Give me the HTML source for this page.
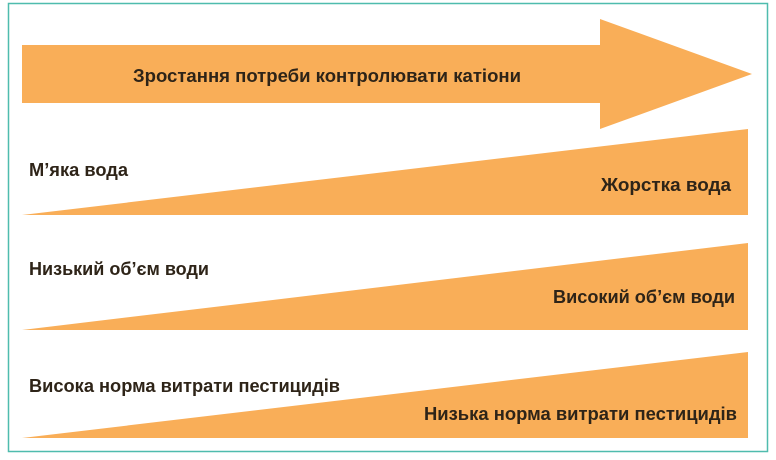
<!DOCTYPE html>
<html><head><meta charset="utf-8"><style>
html,body{margin:0;padding:0;background:#fff;}
svg text{font-family:"Liberation Sans Narrow","Liberation Sans",sans-serif;font-weight:bold;font-size:18px;fill:#2e2418;}
</style></head><body>
<svg width="776" height="455" viewBox="0 0 776 455" xmlns="http://www.w3.org/2000/svg">
<rect x="8.5" y="3.5" width="759" height="448" fill="#fff" stroke="#4fbcae" stroke-width="1.5"/>
<polygon points="22,45 600,45 600,19 752,74 600,129 600,103 22,103" fill="#f9ae58"/>
<polygon points="22,215 748,129 748,215" fill="#f9ae58"/>
<polygon points="22,330 748,243 748,330" fill="#f9ae58"/>
<polygon points="22,438 748,352 748,438" fill="#f9ae58"/>
<text x="133" y="82" textLength="388" lengthAdjust="spacingAndGlyphs">Зростання потреби контролювати катіони</text>
<text x="29" y="176" textLength="99" lengthAdjust="spacingAndGlyphs">М’яка вода</text>
<text x="601" y="191" textLength="130" lengthAdjust="spacingAndGlyphs">Жорстка вода</text>
<text x="29" y="275" textLength="180" lengthAdjust="spacingAndGlyphs">Низький об’єм води</text>
<text x="553" y="303" textLength="182" lengthAdjust="spacingAndGlyphs">Високий об’єм води</text>
<text x="29" y="392" textLength="311" lengthAdjust="spacingAndGlyphs">Висока норма витрати пестицидів</text>
<text x="424" y="420" textLength="313" lengthAdjust="spacingAndGlyphs">Низька норма витрати пестицидів</text>
</svg>
</body></html>
